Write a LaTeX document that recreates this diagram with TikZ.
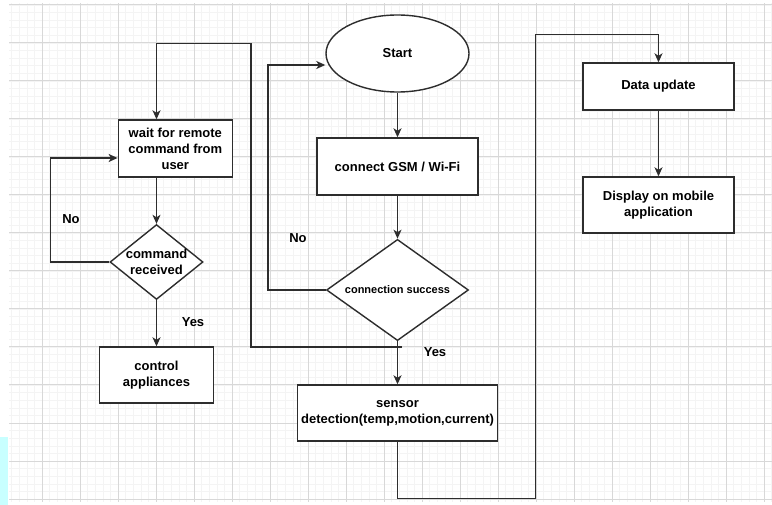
\documentclass[tikz,border=0pt]{standalone}
\usepackage{fontspec}
\setmainfont{Liberation Sans}
\usetikzlibrary{shapes.geometric,arrows.meta,positioning}

\definecolor{gridmajor}{RGB}{216,216,216}
\definecolor{gridminor}{RGB}{244,244,244}
\definecolor{linegray}{RGB}{45,45,45}
\definecolor{stripcyan}{RGB}{200,255,255}

\begin{document}
\begin{tikzpicture}[
    x=1pt, y=-1pt,
    font=\fontsize{13}{16}\selectfont\bfseries,
    block/.style={rectangle, draw=linegray, line width=1.4pt, fill=white, align=center},
    startstop/.style={ellipse, draw=linegray, line width=1.4pt, fill=white, minimum width=143pt, minimum height=77pt},
    decision/.style={diamond, draw=linegray, line width=1.4pt, fill=white, align=center, inner sep=-3pt},
    lbl/.style={inner sep=0pt},
    arrow/.style={-{Stealth[length=9pt,width=8pt,inset=2.5pt]}, line width=1.4pt, draw=linegray},
    line/.style={line width=1.4pt, draw=linegray}
]

    \useasboundingbox (0,0) rectangle (772,505);

    % Background grid
    \fill[stripcyan] (0,437) rectangle (8,505);
    \begin{scope}
        \clip (9,4) rectangle (772,501);
        \foreach \k in {0,...,101} \draw[gridminor, line width=0.6pt] ({4+7.6*\k},0) -- ({4+7.6*\k},505);
        \foreach \k in {0,...,66} \draw[gridminor, line width=0.6pt] (0,{5+7.6*\k}) -- (772,{5+7.6*\k});
        \foreach \k in {0,...,20} \draw[gridmajor, line width=1pt] ({4+38*\k},0) -- ({4+38*\k},505);
        \foreach \k in {0,...,13} \draw[gridmajor, line width=1pt] (0,{5+38*\k}) -- (772,{5+38*\k});
    \end{scope}

    % Main column
    \node (start) [startstop] at (397.5,53.5) {Start};
    \node (connect) [block, below of=start, node distance=113pt, minimum width=161pt, minimum height=57pt] {connect GSM / Wi-Fi};
    \node (check) [decision, below of=connect, node distance=123.5pt, minimum width=142pt, minimum height=95pt, font=\fontsize{11}{13}\selectfont\bfseries] {connection success};
    \node (sensor) [block, below of=check, node distance=123pt, minimum width=199pt, minimum height=56pt] {sensor \\ detection(temp,motion,current)};

    % Remote control column
    \node (wait) [block, minimum width=114pt, minimum height=57pt] at (175.3,148.5) {wait for remote \\ command from \\ user};
    \node (command) [decision, minimum width=93pt, minimum height=74pt] at (156.5,262) {command \\ received};
    \node (control) [block, below of=command, node distance=113pt, minimum width=114pt, minimum height=56pt] {control \\ appliances};

    % Mobile column
    \node (update) [block, minimum width=151pt, minimum height=47pt] at (658.5,86.5) {Data update};
    \node (display) [block, below of=update, node distance=118.5pt, minimum width=151pt, minimum height=56pt] {Display on mobile \\ application};

    % Labels
    \node (no_cmd) [lbl] at (71,219) {No};
    \node (yes_cmd) [lbl] at (193,322) {Yes};
    \node (no_conn) [lbl] at (298,238) {No};
    \node (yes_conn) [lbl] at (435,352) {Yes};

    \coordinate (loopstart) at (402,347);

    % Flow arrows
    \draw [arrow] (start) -- (connect);
    \draw [arrow] (connect) -- (check);
    \draw [arrow] (check) -- (sensor);
    \draw [arrow] (check.west) -- ++(-58,0) |- ([yshift=-11.5pt]start.west);

    \draw [arrow] (loopstart) -- ++(-151,0) |- ([yshift=76pt]command.north |- wait.north) -- (command.north |- wait.north);
    \draw [arrow] (command.north |- wait.south) -- (command.north);
    \draw [arrow] (command.west) -- ++(-59,0) |- ([yshift=-9.5pt]wait.west);
    \draw [arrow] (command) -- (control);

    \draw [arrow] (sensor.south) |- ++(138,57) |- ([yshift=28pt]update.north) -- (update.north);
    \draw [arrow] (update) -- (display);

\end{tikzpicture}
\end{document}
